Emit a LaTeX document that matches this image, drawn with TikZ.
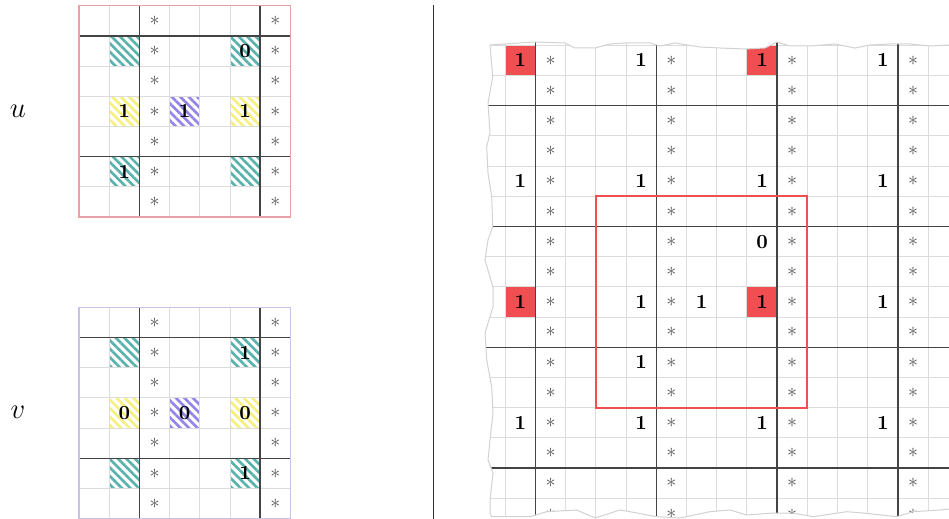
\documentclass[tikz,border=0pt]{standalone}
\usetikzlibrary{patterns.meta}
\definecolor{lgrid}{HTML}{DCDCDC}
\definecolor{dgrid}{HTML}{444444}
\definecolor{starc}{HTML}{555555}
\definecolor{redf}{HTML}{F04E50}
\definecolor{hteal}{HTML}{5AB2AC}
\definecolor{hyellow}{HTML}{F6F07A}
\definecolor{hpurple}{HTML}{9484EA}
\definecolor{uborder}{HTML}{E8A0A8}
\definecolor{vborder}{HTML}{C8C2EA}
\definecolor{jagc}{HTML}{D2D2D2}
\tikzset{
  lightgrid/.style={draw=lgrid, line width=0.5pt},
  thickline/.style={draw=dgrid, line width=0.75pt},
  starnode/.style={inner sep=0pt, text=starc, font=\normalsize},
  dig/.style={inner sep=0pt, font=\bfseries},
  lbl/.style={inner sep=0pt, font=\Large},
  hatch/.style={pattern={Lines[angle=-45,distance=3pt,line width=1.3pt]}, pattern color=#1},
  redbox/.style={draw=redf, line width=1pt},
}
\newcommand{\SmallGrid}[2]{%
  \fill[hatch=hteal] (1,1) rectangle (2,2) (5,1) rectangle (6,2) (1,5) rectangle (2,6) (5,5) rectangle (6,6);
  \fill[hatch=hyellow] (1,3) rectangle (2,4) (5,3) rectangle (6,4);
  \fill[hatch=hpurple] (3,3) rectangle (4,4);
  \foreach \i in {1,...,6} {\draw[lightgrid] (\i,0) -- (\i,7) (0,\i) -- (7,\i);}
  \draw[thickline] (2,0) -- (2,7) (6,0) -- (6,7) (0,1) -- (7,1) (0,5) -- (7,5);
  \draw[draw=#1, line width=0.6pt] (0,0) rectangle (7,7);
  \foreach \r in {0,...,6} {%
    \node[starnode] (#2-a\r) at (2.5,\r+0.5) {$\ast$};
    \node[starnode] (#2-b\r) at (6.5,\r+0.5) {$\ast$};
  }%
}
\begin{document}
\begin{tikzpicture}[x=0.5pt,y=-0.5pt]
\useasboundingbox (0,0) rectangle (949,519);
\fill[white] (0,0) rectangle (949,519);

% divider
\coordinate (dtop) at (433,5);
\coordinate (dbot) at (433,519);
\draw[draw=black!80, line width=0.5pt] (dtop) -- (dbot);

% labels
\node[lbl] (ulabel) at (18,111) {$u$};
\node[lbl] (vlabel) at (18,412) {$v$};

% u grid
\begin{scope}[shift={(39.5pt,-2.85pt)}, x=15.1pt, y=-15.1pt]
  \SmallGrid{uborder}{u}
  \node[dig] (u-d1) at (5.5,1.5) {0};
  \node[dig] (u-d2) at (1.5,3.5) {1};
  \node[dig] (u-d3) at (3.5,3.5) {1};
  \node[dig] (u-d4) at (5.5,3.5) {1};
  \node[dig] (u-d5) at (1.5,5.5) {1};
\end{scope}

% v grid
\begin{scope}[shift={(39.5pt,-153.65pt)}, x=15.1pt, y=-15.1pt]
  \SmallGrid{vborder}{v}
  \node[dig] (v-d1) at (5.5,1.5) {1};
  \node[dig] (v-d2) at (1.5,3.5) {0};
  \node[dig] (v-d3) at (3.5,3.5) {0};
  \node[dig] (v-d4) at (5.5,3.5) {0};
  \node[dig] (v-d5) at (5.5,5.5) {1};
\end{scope}

% big grid
\begin{scope}
\clip (490,45) -- (505,44) -- (535,42) -- (565,43) -- (575,48) -- (595,48) -- (610,44) -- (625,43) -- (650,43) -- (660,46) -- (675,43) -- (700,47) -- (720,48) -- (745,49) -- (765,48) -- (777,42) -- (790,46) -- (810,46) -- (835,44) -- (855,48) -- (870,45) -- (890,44) -- (910,44) -- (930,46) -- (949,45) -- (960,45) -- (960,509) -- (949,509) -- (940,510) -- (913,511.7) -- (896.7,516.7) -- (863,513) -- (846.7,511.7) -- (813,516.7) -- (793,513) -- (773,513) -- (746.7,515) -- (730,510) -- (710,511.7) -- (680,518) -- (656.7,516.7) -- (630,511.7) -- (620,510) -- (595,518) -- (576.7,510) -- (546.7,511.7) -- (530,516.7) -- (491.7,516.7) -- (490,513) -- (490,500) -- (493,473) -- (488,460) -- (490,440) -- (493,413) -- (491.7,387) -- (486.7,360) -- (485,333) -- (493,307) -- (493,287) -- (485,260) -- (488,240) -- (492.7,226.7) -- (491.7,196.7) -- (488,173) -- (486.7,146.7) -- (490,133) -- (488,103) -- (492.7,76.7) -- cycle;
\begin{scope}[shift={(252.65pt,-37.75pt)}, x=15.1pt, y=-15.1pt]
  \fill[redf] (0,-1) rectangle (1,0) (8,-1) rectangle (9,0) (0,7) rectangle (1,8) (8,7) rectangle (9,8);
  \foreach \i in {-1,...,16} {\draw[lightgrid] (\i,-1.5) -- (\i,15);}
  \foreach \j in {-1,...,15} {\draw[lightgrid] (-1.5,\j) -- (16,\j);}
  \foreach \i in {1,5,9,13} {\draw[thickline] (\i,-1.5) -- (\i,15);}
  \foreach \j in {1,5,9,13} {\draw[thickline] (-1.5,\j) -- (16,\j);}
  \foreach \k in {0,...,3} {\foreach \r in {-1,...,14} {%
    \node[starnode] (bs-\k-\r) at (4*\k+1.5,\r+0.5) {$\ast$};}}
  \foreach \k in {0,...,3} {\foreach \m in {0,...,3} {%
    \node[dig] (bo-\k-\m) at (4*\k+0.5,4*\m-0.5) {1};}}
  \node[dig] (bx-1) at (8.5,5.5) {0};
  \node[dig] (bx-2) at (6.5,7.5) {1};
  \node[dig] (bx-3) at (4.5,9.5) {1};
  \draw[redbox] (3,4) rectangle (10,11);
\end{scope}
\end{scope}
\draw[draw=jagc, line width=0.5pt] (490,45) -- (505,44) -- (535,42) -- (565,43) -- (575,48) -- (595,48) -- (610,44) -- (625,43) -- (650,43) -- (660,46) -- (675,43) -- (700,47) -- (720,48) -- (745,49) -- (765,48) -- (777,42) -- (790,46) -- (810,46) -- (835,44) -- (855,48) -- (870,45) -- (890,44) -- (910,44) -- (930,46) -- (949,45) -- (960,45) (960,509) -- (949,509) -- (940,510) -- (913,511.7) -- (896.7,516.7) -- (863,513) -- (846.7,511.7) -- (813,516.7) -- (793,513) -- (773,513) -- (746.7,515) -- (730,510) -- (710,511.7) -- (680,518) -- (656.7,516.7) -- (630,511.7) -- (620,510) -- (595,518) -- (576.7,510) -- (546.7,511.7) -- (530,516.7) -- (491.7,516.7) -- (490,513) -- (490,500) -- (493,473) -- (488,460) -- (490,440) -- (493,413) -- (491.7,387) -- (486.7,360) -- (485,333) -- (493,307) -- (493,287) -- (485,260) -- (488,240) -- (492.7,226.7) -- (491.7,196.7) -- (488,173) -- (486.7,146.7) -- (490,133) -- (488,103) -- (492.7,76.7) -- (490,45);
\end{tikzpicture}
\end{document}
